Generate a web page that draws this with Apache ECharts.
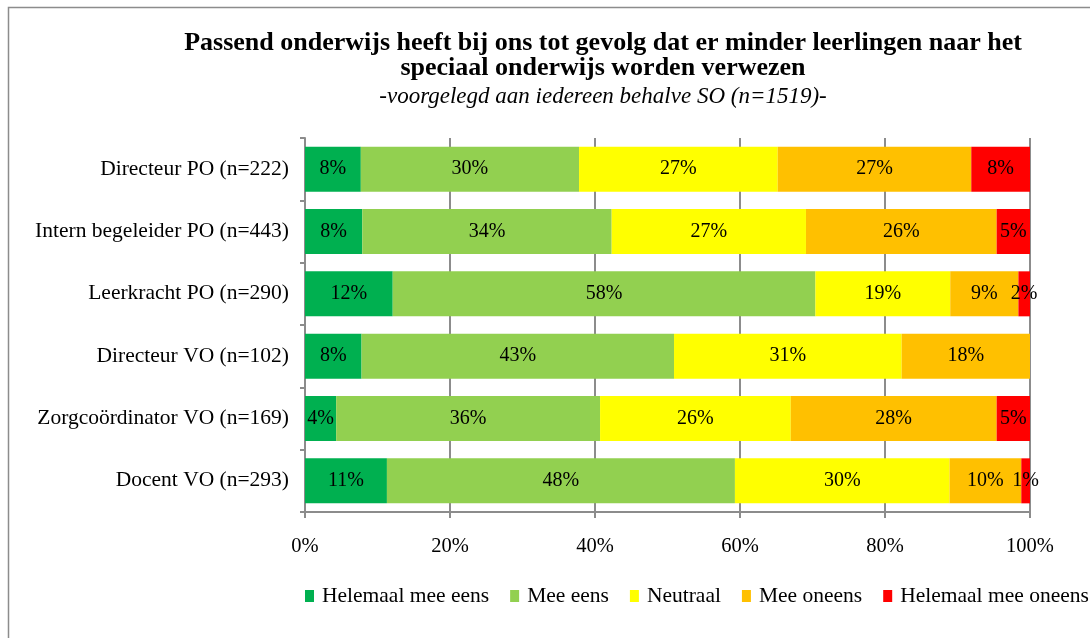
<!DOCTYPE html>
<html>
<head>
<meta charset="utf-8">
<title>Passend onderwijs</title>
<script src="https://cdn.jsdelivr.net/npm/echarts@6/dist/echarts.min.js"></script>
<style>
  html, body { margin: 0; padding: 0; background: #fff; }
  #chart { width: 1090px; height: 638px; }
</style>
</head>
<body>
<div id="chart"></div>
<script>
// Respondent groups, top to bottom
const categories = [
  'Directeur PO (n=222)',
  'Intern begeleider PO (n=443)',
  'Leerkracht PO (n=290)',
  'Directeur VO (n=102)',
  'Zorgcoördinator VO (n=169)',
  'Docent VO (n=293)'
]

const seriesNames = ['Helemaal mee eens', 'Mee eens', 'Neutraal', 'Mee oneens', 'Helemaal mee oneens']
const seriesColors = ['#00b050', '#92d050', '#ffff00', '#ffc000', '#ff0000']

// Percentages
const helemaalMeeEens = [7.7, 7.9, 12.1, 7.8, 4.3, 11.3]
const meeEens = [30.1, 34.4, 58.3, 43.1, 36.4, 48.0]
const neutraal = [27.4, 26.8, 18.6, 31.4, 26.3, 29.6]
const meeOneens = [26.7, 26.3, 9.4, 17.7, 28.4, 9.9]
const helemaalMeeOneens = [8.1, 4.6, 1.6, 0, 4.6, 1.2]

const xTicks = [0, 20, 40, 60, 80, 100]

const titleLines = [
  'Passend onderwijs heeft bij ons tot gevolg dat er minder leerlingen naar het',
  'speciaal onderwijs worden verwezen'
]
const subtitle = '-voorgelegd aan iedereen behalve SO (n=1519)-'

const fontFamily = '"Liberation Serif", "DejaVu Serif", serif'
const gray = '#8c8c8c'

const chart = echarts.init(document.getElementById('chart'))

const seriesData = [helemaalMeeEens, meeEens, neutraal, meeOneens, helemaalMeeOneens]

// one title block per line so each line is centred on its own
const titleStyle = { fontFamily: fontFamily, fontSize: 26, fontWeight: 'bold', color: '#000', lineHeight: 26 }
const titles = titleLines.map((line, i) => ({
  text: line,
  left: 603,
  top: 30 + i * 25,
  textAlign: 'center',
  padding: 0,
  textStyle: titleStyle
}))
titles.push({
  text: subtitle,
  left: 603,
  top: 84,
  textAlign: 'center',
  padding: 0,
  textStyle: { fontFamily: fontFamily, fontSize: 23, fontStyle: 'italic', fontWeight: 'normal', color: '#000', lineHeight: 26 }
})

const option = {
  animation: false,
  textStyle: { fontFamily: fontFamily },
  graphic: [
    {
      // outer frame of the chart area
      type: 'rect',
      silent: true,
      shape: { x: 8.5, y: 7.5, width: 1200, height: 800 },
      style: { fill: 'none', stroke: gray, lineWidth: 1.5 }
    }
  ],
  title: titles,
  legend: {
    data: seriesNames,
    left: 300,
    top: 580,
    width: 820,
    itemWidth: 9,
    itemHeight: 12,
    itemGap: 21,
    icon: 'rect',
    textStyle: { fontFamily: fontFamily, fontSize: 21.5, color: '#000', padding: [0, 0, 0, 3] }
  },
  grid: {
    left: 305,
    right: 60,
    top: 138,
    bottom: 126,
    containLabel: false
  },
  xAxis: {
    type: 'value',
    min: 0,
    max: 100,
    interval: 20,
    axisLine: { show: true, lineStyle: { color: gray, width: 2 } },
    axisTick: { show: true, length: 6, lineStyle: { color: gray, width: 2 } },
    splitLine: { show: true, lineStyle: { color: gray, width: 2 } },
    axisLabel: {
      margin: 24,
      fontFamily: fontFamily,
      fontSize: 20.5,
      color: '#000',
      formatter: v => (xTicks.includes(v) ? v + '%' : '')
    }
  },
  yAxis: {
    type: 'category',
    data: categories,
    inverse: true,
    axisLine: { show: true, lineStyle: { color: gray, width: 2 } },
    axisTick: { show: true, length: 5, lineStyle: { color: gray, width: 2 } },
    axisLabel: {
      margin: 16,
      fontFamily: fontFamily,
      fontSize: 21.5,
      color: '#000'
    }
  },
  series: seriesNames.map((name, i) => ({
    name: name,
    type: 'bar',
    stack: 'total',
    barWidth: 45,
    data: seriesData[i],
    itemStyle: { color: seriesColors[i] },
    label: {
      show: true,
      position: 'inside',
      fontFamily: fontFamily,
      fontSize: 20,
      color: '#000',
      formatter: p => (p.value > 0 ? Math.round(p.value) + '%' : '')
    }
  }))
}

chart.setOption(option)
</script>
</body>
</html>
